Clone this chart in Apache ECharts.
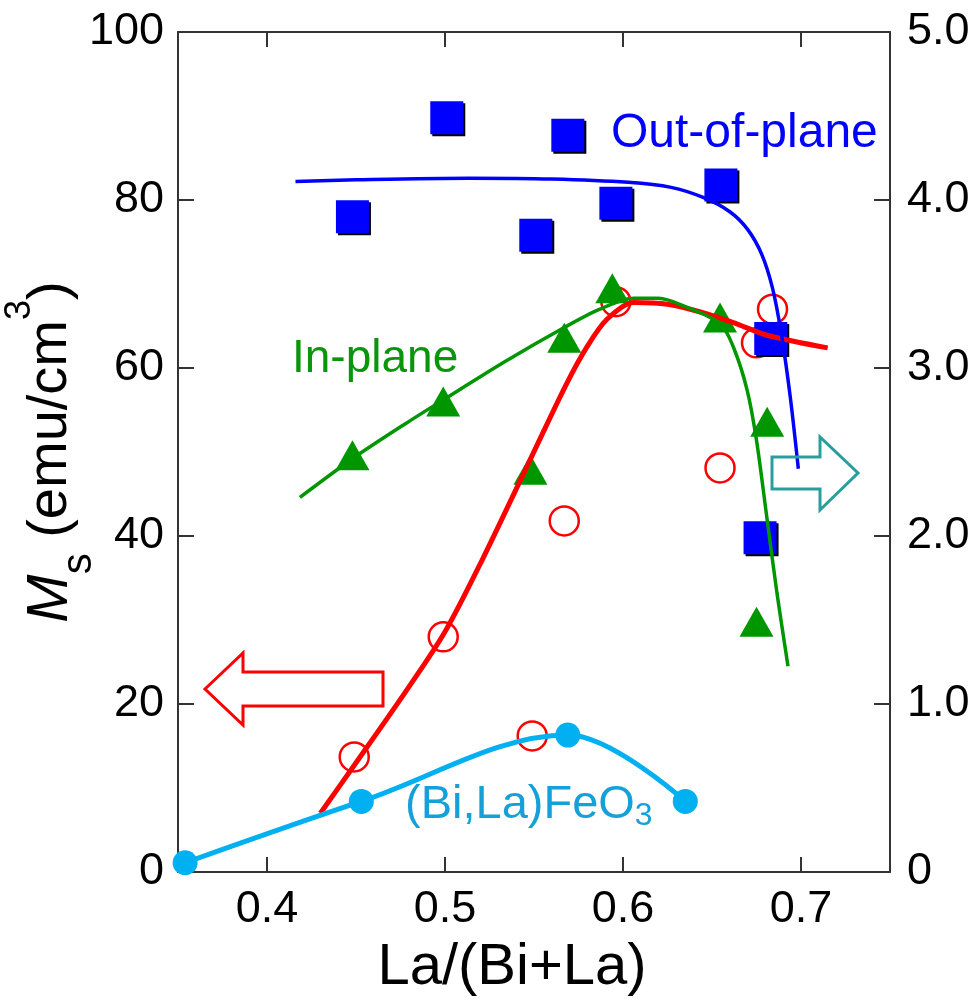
<!DOCTYPE html>
<html>
<head>
<meta charset="utf-8">
<script src="https://cdn.jsdelivr.net/npm/echarts@6/dist/echarts.min.js"></script>
<style>
  html, body { margin: 0; padding: 0; background: #fff; }
  #chart { width: 977px; height: 1002px; }
</style>
</head>
<body>
<div id="chart"></div>
<script>
// x ticks / labels
const xTicks = [0.4, 0.5, 0.6, 0.7];

// Out-of-plane (blue squares + guide line), emu/cm3
const outPlanePts = [[0.448, 78], [0.501, 89.8], [0.551, 75.8], [0.569, 87.7], [0.596, 79.6], [0.655, 81.8], [0.683, 63.5], [0.677, 39.8]];
const outPlaneFit = [[0.416, 82.2], [0.45, 82.4], [0.5135, 82.6], [0.56, 82.5], [0.603, 82.1], [0.627, 81.5], [0.645, 80.3], [0.66, 78.6], [0.67, 76.5], [0.678, 73.5], [0.684, 69.5], [0.689, 64], [0.694, 56.5], [0.6985, 48]];

// red open circles + guide line
const redPts = [[0.449, 13.7], [0.499, 28], [0.549, 16.2], [0.567, 41.8], [0.596, 67.9], [0.6545, 48.1], [0.684, 67], [0.675, 63]];
const redFit = [[0.430, 7], [0.45, 13], [0.478, 21.5], [0.50, 28.6], [0.521, 37.2], [0.549, 49.6], [0.568, 58], [0.58, 62.6], [0.591, 65.8], [0.606, 67.8], [0.625, 67.6], [0.643, 66.7], [0.662, 65.4], [0.681, 63.9], [0.715, 62.4]];

// In-plane (green triangles + guide line)
const inPlanePts = [[0.448, 49.6], [0.499, 56], [0.548, 47.9], [0.567, 63.6], [0.594, 69.5], [0.6545, 66], [0.681, 53.6], [0.675, 29.8]];
const inPlaneFit = [[0.4185, 44.6], [0.448, 49.2], [0.478, 53.4], [0.499, 56.2], [0.534, 60.8], [0.566, 64.7], [0.587, 67], [0.606, 68.3], [0.62, 68.3], [0.634, 67.4], [0.6545, 65.3], [0.662, 62.5], [0.6697, 57.4], [0.675, 51.4], [0.681, 41.9], [0.6865, 33.2], [0.6927, 24.5]];

// (Bi,La)FeO3, right axis
const bulkPts = [[0.354, 0.055], [0.453, 0.42], [0.569, 0.815], [0.635, 0.42]];

const FONT = 'Liberation Sans';
const AXIS_COLOR = '#333';

const chart = echarts.init(document.getElementById('chart'));

const xBase = {
  type: 'value', min: 0.35, max: 0.75,
  splitLine: { show: false },
  axisLine: { show: true, onZero: false, lineStyle: { color: AXIS_COLOR, width: 2 } },
  axisTick: { show: true, inside: true, length: 15, customValues: xTicks, lineStyle: { color: AXIS_COLOR, width: 2 } }
};

chart.setOption({
  animation: false,
  backgroundColor: '#fff',
  grid: { left: 178, right: 87, top: 32, bottom: 130, outerBoundsMode: 'none', containLabel: false },
  xAxis: [
    Object.assign({}, xBase, {
      position: 'bottom',
      name: 'La/(Bi+La)',
      nameLocation: 'middle',
      nameGap: 67,
      nameMoveOverlap: false,
      nameTextStyle: { fontFamily: FONT, fontSize: 58, lineHeight: 58, color: '#000', padding: [0, 44, 0, 0] },
      axisLabel: {
        customValues: xTicks, margin: 15,
        fontFamily: FONT, fontSize: 45, color: '#000',
        formatter: v => v.toFixed(1)
      }
    }),
    Object.assign({}, xBase, { position: 'top', axisLabel: { show: false } })
  ],
  yAxis: [
    {
      type: 'value', min: 0, max: 100, interval: 20, position: 'left',
      splitLine: { show: false },
      axisLine: { show: true, onZero: false, lineStyle: { color: AXIS_COLOR, width: 2 } },
      axisTick: { inside: true, length: 16, lineStyle: { color: AXIS_COLOR, width: 2 } },
      axisLabel: { margin: 14, fontFamily: FONT, fontSize: 45, color: '#000' },
      name: '{m|M}{s|s}{t| (emu/cm}{p|3}{t|)}',
      nameLocation: 'middle',
      nameRotate: 90,
      nameGap: 78,
      nameMoveOverlap: false,
      nameTextStyle: {
        fontFamily: FONT, color: '#000',
        rich: {
          m: { fontFamily: FONT, fontSize: 58, fontStyle: 'italic', lineHeight: 98, color: '#000' },
          t: { fontFamily: FONT, fontSize: 56, lineHeight: 98, color: '#000' },
          s: { fontFamily: FONT, fontSize: 42, lineHeight: 36, verticalAlign: 'bottom', color: '#000' },
          p: { fontFamily: FONT, fontSize: 36, lineHeight: 48, verticalAlign: 'top', color: '#000' }
        }
      }
    },
    {
      type: 'value', min: 0, max: 5, interval: 1, position: 'right',
      splitLine: { show: false },
      axisLine: { show: true, onZero: false, lineStyle: { color: AXIS_COLOR, width: 2 } },
      axisTick: { inside: true, length: 16, lineStyle: { color: AXIS_COLOR, width: 2 } },
      axisLabel: {
        margin: 17, fontFamily: FONT, fontSize: 45, color: '#000',
        formatter: v => (v === 0 ? '0' : v.toFixed(1))
      }
    }
  ],
  series: [
    {
      type: 'line', data: redFit, smooth: 0.3, showSymbol: false, symbol: 'none',
      lineStyle: { color: '#ff0000', width: 5 }
    },
    {
      type: 'scatter', data: redPts, symbol: 'circle', symbolSize: 29,
      itemStyle: { color: '#fff', borderColor: '#ff0000', borderWidth: 2.5, opacity: 1 }
    },
    {
      type: 'line', data: inPlaneFit, smooth: 0.3, showSymbol: false, symbol: 'none',
      lineStyle: { color: '#009600', width: 3.5 }
    },
    {
      type: 'scatter', data: inPlanePts, symbol: 'triangle', symbolSize: [34, 30],
      itemStyle: { color: '#009600', opacity: 1 }
    },
    {
      type: 'line', yAxisIndex: 1, data: bulkPts, smooth: 0.35,
      symbol: 'circle', symbolSize: 25, showSymbol: true,
      lineStyle: { color: '#00b0f0', width: 5 },
      itemStyle: { color: '#00b0f0' }
    },
    {
      type: 'line', data: outPlaneFit, smooth: 0.3, showSymbol: false, symbol: 'none',
      lineStyle: { color: '#0000ff', width: 3.5 }
    },
    {
      type: 'scatter', data: outPlanePts, symbol: 'rect', symbolSize: 33,
      itemStyle: { color: '#0000ff', opacity: 1, shadowColor: '#000', shadowOffsetX: 2, shadowOffsetY: 2, shadowBlur: 0 }
    }
  ],
  graphic: [
    {
      type: 'polygon', z: 50,
      shape: { points: [[205, 689], [243, 653], [243, 672], [383, 672], [383, 706], [243, 706], [243, 725]] },
      style: { fill: 'none', stroke: '#ff0000', lineWidth: 3 }
    },
    {
      type: 'polygon', z: 50,
      shape: { points: [[772, 457], [820, 457], [820, 437], [858, 473], [820, 510], [820, 489], [772, 489]] },
      style: { fill: 'none', stroke: '#2a9d9d', lineWidth: 3 }
    },
    {
      type: 'text', z: 50, left: 611, top: 110,
      style: { text: 'Out-of-plane', fontFamily: FONT, fontSize: 48, fill: '#0000ff' }
    },
    {
      type: 'text', z: 50, left: 292, top: 336,
      style: { text: 'In-plane', fontFamily: FONT, fontSize: 46, fill: '#0a960a' }
    },
    {
      type: 'text', z: 50, left: 405, top: 782,
      style: {
        text: '{a|(Bi,La)FeO}{b|3}',
        rich: {
          a: { fontFamily: FONT, fontSize: 47, lineHeight: 54, fill: '#14a0d8', color: '#14a0d8' },
          b: { fontFamily: FONT, fontSize: 32, lineHeight: 30, verticalAlign: 'bottom', fill: '#14a0d8', color: '#14a0d8' }
        }
      }
    }
  ]
});
</script>
</body>
</html>
